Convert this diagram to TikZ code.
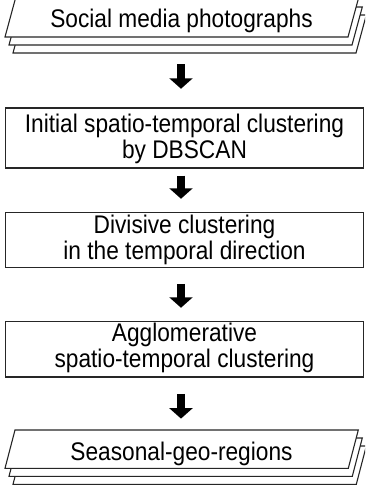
\documentclass[tikz,border=0pt]{standalone}
\usepackage{fontspec}
\setmainfont[FakeStretch=0.89]{Liberation Sans}
\usetikzlibrary{arrows.meta}
\begin{document}
\begin{tikzpicture}[x=1pt,y=-1pt,
  font=\fontsize{25.5}{26}\selectfont,
  boxst/.style={draw=black!85, line width=1.1pt},
  rectbox/.style={boxst, minimum width=357.5pt, inner sep=0pt},
  lbl/.style={inner sep=0pt, align=center},
  blockarrow/.style={line width=8pt, -{Triangle[length=10.5pt,width=23pt]}}]
\useasboundingbox (0,0) rectangle (365,488);
\clip (0,0) rectangle (365,488);
% stacked input parallelograms
\foreach \d in {2,1,0}{
  \draw[boxst, fill=white, shift={(4*\d,8*\d)}] (5,37) -- (15.3,-1) -- (358.3,-1) -- (348,37) -- cycle;
}
\node[lbl, anchor=base] (t1) at (181.5,27) {Social media photographs};
\coordinate (s1b) at (181,53.3);
% process boxes
\node[rectbox, minimum height=60pt] (b2) at (184.3,138) {};
\node[lbl] (t2) at (184.5,138.5) {Initial spatio-temporal clustering\\by DBSCAN};
\node[rectbox, minimum height=54.6pt] (b3) at (184.3,240) {};
\node[lbl] (t3) at (184.5,239.5) {Divisive clustering\\in the temporal direction};
\node[rectbox, minimum height=55.3pt] (b4) at (184.3,349.35) {};
\node[lbl] (t4) at (184.5,347.5) {Agglomerative\\spatio-temporal clustering};
% stacked output parallelograms
\foreach \d in {2,1,0}{
  \draw[boxst, fill=white, shift={(4*\d,8*\d)}] (5,468.3) -- (15,430) -- (358.3,430) -- (348.3,468.3) -- cycle;
}
\node[lbl, anchor=base] (t5) at (181.5,460) {Seasonal-geo-regions};
\coordinate (s5t) at (181,430);
\coordinate (ax) at (181,0);
% arrows
\draw[blockarrow, shorten <=10.7pt, shorten >=18.7pt] (s1b) -- (b2.north -| ax);
\draw[blockarrow, shorten <=7pt, shorten >=13.4pt] (b2.south -| ax) -- (b3.north -| ax);
\draw[blockarrow, shorten <=16pt, shorten >=13.4pt] (b3.south -| ax) -- (b4.north -| ax);
\draw[blockarrow, shorten <=16.3pt, shorten >=11.4pt] (b4.south -| ax) -- (s5t);
\end{tikzpicture}
\end{document}
